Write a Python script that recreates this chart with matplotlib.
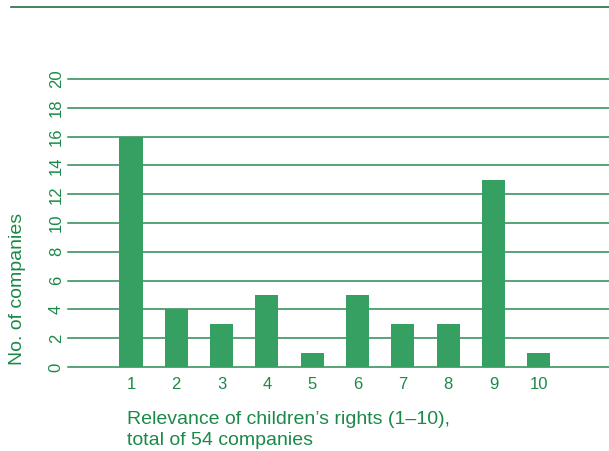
import matplotlib.pyplot as plt
import numpy as np

# Data
ratings = [1, 2, 3, 4, 5, 6, 7, 8, 9, 10]
companies = [16, 4, 3, 5, 1, 5, 3, 3, 13, 1]
yticks = [0, 2, 4, 6, 8, 10, 12, 14, 16, 18, 20]

bar_color = '#36a062'
grid_color = '#2a8a50'
text_color = '#1a8a48'

plt.rcParams['font.family'] = ['Liberation Sans', 'DejaVu Sans']

fig = plt.figure(figsize=(6.09, 4.51), dpi=100)
ax = fig.add_axes([68 / 609, 1 - 367 / 451, 1 - 68 / 609, (367 - 79) / 451])

# Horizontal gridlines behind the bars
for y in yticks:
    ax.axhline(y, color=grid_color, lw=1.1, zorder=1, clip_on=False)

ax.bar(ratings, companies, width=0.51, color=bar_color, zorder=2)

ax.set_xlim(-0.39, 11.55)
ax.set_ylim(0, 20)
ax.set_xticks(ratings)
ax.set_yticks(yticks)
ax.tick_params(axis='both', length=0, colors=text_color, labelsize=12)
ax.tick_params(axis='x', pad=7)
ax.tick_params(axis='y', pad=3)
for lbl in ax.get_yticklabels():
    lbl.set_rotation(90)
    lbl.set_va('center')

for s in ax.spines.values():
    s.set_visible(False)

# Axis titles
fig.text(18 / 609, 1 - 289 / 451, 'No. of companies', rotation=90,
         ha='center', va='center', color=text_color, fontsize=14)
fig.text(127 / 609, 1 - 430 / 451,
         'Relevance of children\u2019s rights (1\u201310),\ntotal of 54 companies',
         ha='left', va='center', color=text_color, fontsize=14, linespacing=1.3)

# Rule at top of figure
fig.add_artist(plt.Line2D([11 / 609, 1], [1 - 7 / 451, 1 - 7 / 451],
                          color='#1e6e40', lw=1.2))

fig.savefig('out.png', dpi=100)
